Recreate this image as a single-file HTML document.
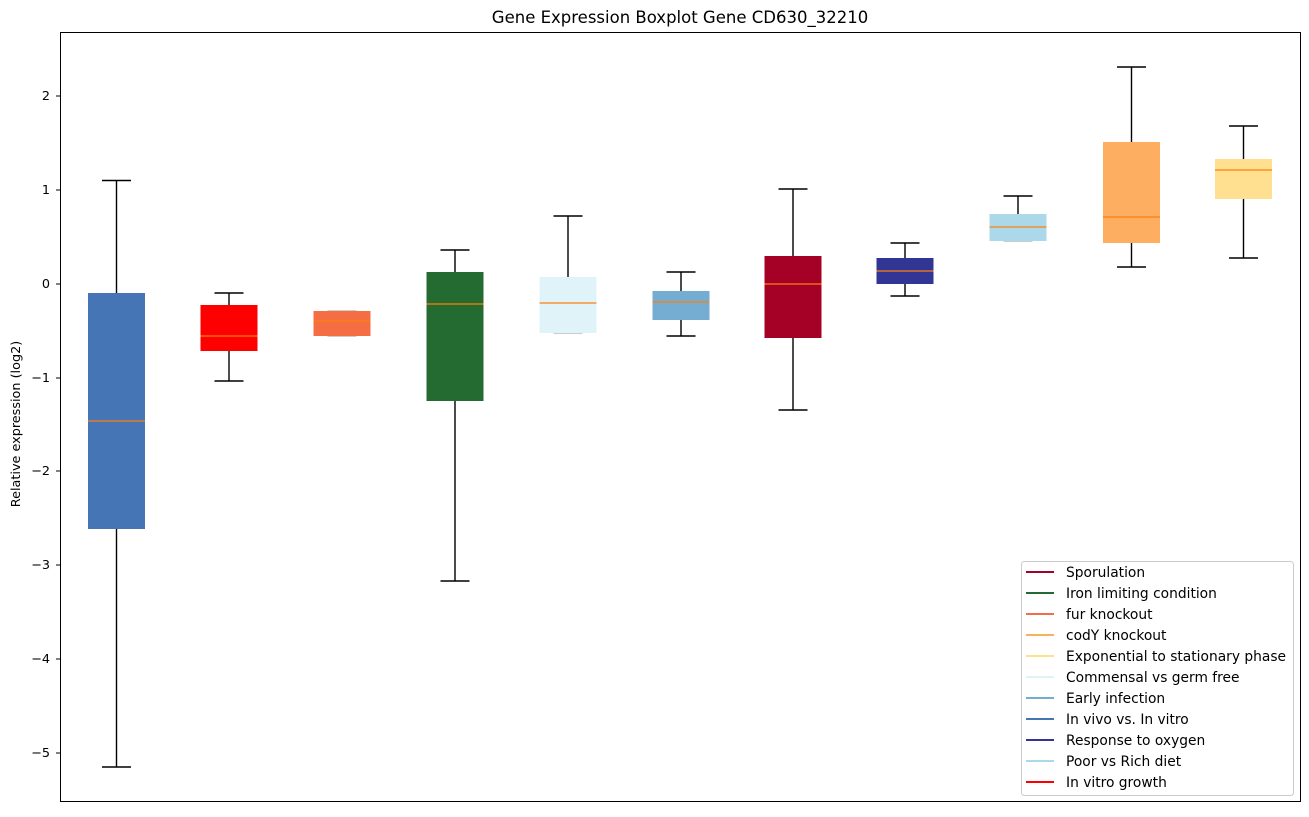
<!DOCTYPE html>
<html><head><meta charset="utf-8"><style>
html,body{margin:0;padding:0;background:#fff;}
svg text{font-family:"DejaVu Sans","Liberation Sans",sans-serif;fill:#000;}
</style></head><body>
<svg width="1309" height="812" xmlns="http://www.w3.org/2000/svg">
<rect width="1309" height="812" fill="#fff"/>
<text x="680" y="23" font-size="16.5" text-anchor="middle">Gene Expression Boxplot Gene CD630_32210</text>
<g font-size="12.8" text-anchor="end">
<text x="50" y="100">2</text>
<text x="50" y="194">1</text>
<text x="50" y="288">0</text>
<text x="50" y="382">−1</text>
<text x="50" y="475">−2</text>
<text x="50" y="569">−3</text>
<text x="50" y="663">−4</text>
<text x="50" y="757">−5</text>
</g>
<g stroke="#000" stroke-width="1">
<line x1="56" x2="60.5" y1="96" y2="96"/><line x1="56" x2="60.5" y1="190" y2="190"/>
<line x1="56" x2="60.5" y1="284" y2="284"/><line x1="56" x2="60.5" y1="378" y2="378"/>
<line x1="56" x2="60.5" y1="471" y2="471"/><line x1="56" x2="60.5" y1="565" y2="565"/>
<line x1="56" x2="60.5" y1="659" y2="659"/><line x1="56" x2="60.5" y1="753" y2="753"/>
</g>
<text transform="translate(20,424) rotate(-90)" font-size="12.8" text-anchor="middle">Relative expression (log2)</text>

<g stroke="#000" stroke-width="1.4">
<line x1="116.5" x2="116.5" y1="180.5" y2="293"/><line x1="116.5" x2="116.5" y1="529" y2="767"/>
<line x1="102" x2="131" y1="180.5" y2="180.5"/><line x1="102" x2="131" y1="767" y2="767"/>
<line x1="229" x2="229" y1="293" y2="305"/><line x1="229" x2="229" y1="351" y2="381"/>
<line x1="214.5" x2="243.5" y1="293" y2="293"/><line x1="214.5" x2="243.5" y1="381" y2="381"/>
<line x1="327.5" x2="356.5" y1="311" y2="311" stroke="#bbb"/><line x1="327.5" x2="356.5" y1="336" y2="336" stroke="#bbb"/>
<line x1="455" x2="455" y1="250" y2="272"/><line x1="455" x2="455" y1="401" y2="581"/>
<line x1="440.5" x2="469.5" y1="250" y2="250"/><line x1="440.5" x2="469.5" y1="581" y2="581"/>
<line x1="568" x2="568" y1="216" y2="277"/>
<line x1="553.5" x2="582.5" y1="216" y2="216"/><line x1="553.5" x2="582.5" y1="333" y2="333" stroke="#bbb"/>
<line x1="681" x2="681" y1="272" y2="291"/><line x1="681" x2="681" y1="320" y2="336"/>
<line x1="666.5" x2="695.5" y1="272" y2="272"/><line x1="666.5" x2="695.5" y1="336" y2="336"/>
<line x1="793" x2="793" y1="189" y2="256"/><line x1="793" x2="793" y1="338" y2="410"/>
<line x1="778.5" x2="807.5" y1="189" y2="189"/><line x1="778.5" x2="807.5" y1="410" y2="410"/>
<line x1="905" x2="905" y1="243" y2="258"/><line x1="905" x2="905" y1="284" y2="296"/>
<line x1="890.5" x2="919.5" y1="243" y2="243"/><line x1="890.5" x2="919.5" y1="296" y2="296"/>
<line x1="1018" x2="1018" y1="196" y2="214"/>
<line x1="1003.5" x2="1032.5" y1="196" y2="196"/><line x1="1003.5" x2="1032.5" y1="241" y2="241" stroke="#bbb"/>
<line x1="1131.5" x2="1131.5" y1="67" y2="142"/><line x1="1131.5" x2="1131.5" y1="243" y2="267"/>
<line x1="1117" x2="1146" y1="67" y2="67"/><line x1="1117" x2="1146" y1="267" y2="267"/>
<line x1="1243.5" x2="1243.5" y1="126" y2="159"/><line x1="1243.5" x2="1243.5" y1="199" y2="258"/>
<line x1="1229" x2="1258" y1="126" y2="126"/><line x1="1229" x2="1258" y1="258" y2="258"/>
</g>
<g>
<rect x="88" y="293" width="57" height="236" fill="#4575b4"/>
<rect x="200.5" y="305" width="57" height="46" fill="#ff0000"/>
<rect x="313.5" y="311" width="57" height="25" fill="#f46d43"/>
<rect x="426.5" y="272" width="57" height="129" fill="#236b30"/>
<rect x="539.5" y="277" width="57" height="56" fill="#e0f3f8"/>
<rect x="652.5" y="291" width="57" height="29" fill="#74add1"/>
<rect x="764.5" y="256" width="57" height="82" fill="#a50026"/>
<rect x="876.5" y="258" width="57" height="26" fill="#313695"/>
<rect x="989.5" y="214" width="57" height="27" fill="#abd9e9"/>
<rect x="1103" y="142" width="57" height="101" fill="#fdae61"/>
<rect x="1215" y="159" width="57" height="40" fill="#fee090"/>
</g>
<g stroke="#ff7f0e" stroke-width="1.2">
<line x1="88" x2="145" y1="421" y2="421"/>
<line x1="200.5" x2="257.5" y1="336" y2="336"/>
<line x1="313.5" x2="370.5" y1="321" y2="321"/>
<line x1="426.5" x2="483.5" y1="304" y2="304"/>
<line x1="539.5" x2="596.5" y1="303" y2="303"/>
<line x1="652.5" x2="709.5" y1="302" y2="302"/>
<line x1="764.5" x2="821.5" y1="284" y2="284"/>
<line x1="876.5" x2="933.5" y1="271" y2="271"/>
<line x1="989.5" x2="1046.5" y1="227" y2="227"/>
<line x1="1103" x2="1160" y1="217" y2="217"/>
<line x1="1215" x2="1272" y1="170" y2="170"/>
</g>
<rect x="60.5" y="32.5" width="1240" height="769" fill="none" stroke="#000" stroke-width="1"/>
<rect x="1021.5" y="561.5" width="272" height="234" rx="3" fill="#fff" fill-opacity="0.8" stroke="#ccc"/>
<g stroke-width="2">
<line x1="1026" x2="1054" y1="572" y2="572" stroke="#a50026"/>
<line x1="1026" x2="1054" y1="593" y2="593" stroke="#236b30"/>
<line x1="1026" x2="1054" y1="614" y2="614" stroke="#f46d43"/>
<line x1="1026" x2="1054" y1="635" y2="635" stroke="#fdae61"/>
<line x1="1026" x2="1054" y1="656" y2="656" stroke="#fee090"/>
<line x1="1026" x2="1054" y1="677" y2="677" stroke="#e0f3f8"/>
<line x1="1026" x2="1054" y1="698" y2="698" stroke="#74add1"/>
<line x1="1026" x2="1054" y1="719" y2="719" stroke="#4575b4"/>
<line x1="1026" x2="1054" y1="740" y2="740" stroke="#313695"/>
<line x1="1026" x2="1054" y1="761" y2="761" stroke="#abd9e9"/>
<line x1="1026" x2="1054" y1="782" y2="782" stroke="#ff0000"/>
</g>
<g font-size="13.8">
<text x="1066" y="577">Sporulation</text>
<text x="1066" y="598">Iron limiting condition</text>
<text x="1066" y="619">fur knockout</text>
<text x="1066" y="640">codY knockout</text>
<text x="1066" y="661">Exponential to stationary phase</text>
<text x="1066" y="682">Commensal vs germ free</text>
<text x="1066" y="703">Early infection</text>
<text x="1066" y="724">In vivo vs. In vitro</text>
<text x="1066" y="745">Response to oxygen</text>
<text x="1066" y="766">Poor vs Rich diet</text>
<text x="1066" y="787">In vitro growth</text>
</g>
</svg>
</body></html>
